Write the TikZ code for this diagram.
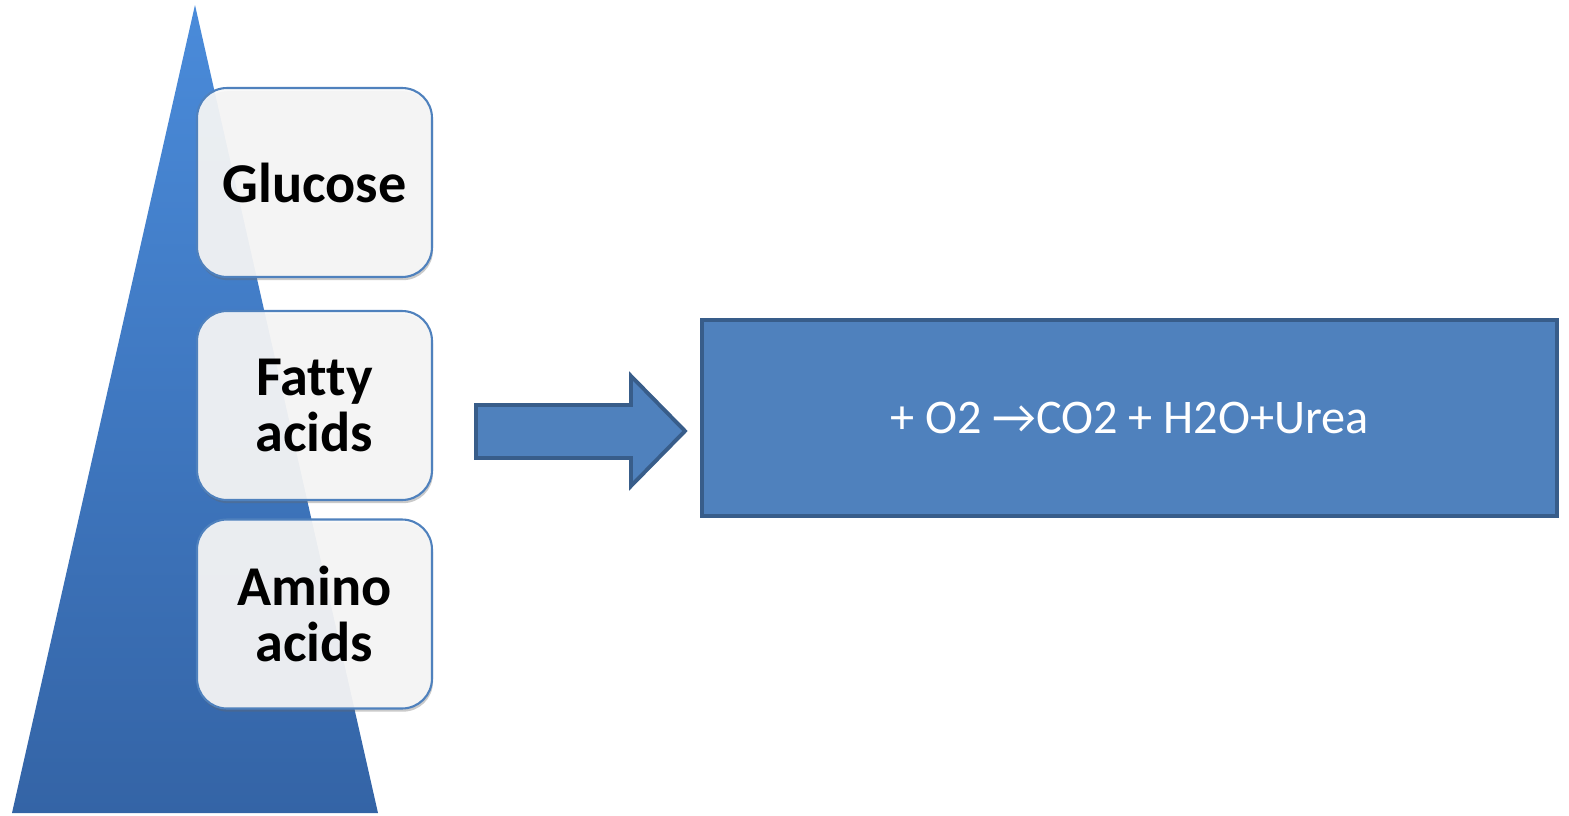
\documentclass[tikz,border=0pt]{standalone}
\usepackage{fontspec}
\setmainfont{Carlito}[Ligatures=CommonOff]
\usetikzlibrary{shadows}
\definecolor{triTop}{HTML}{4A8BDA}
\definecolor{triBot}{HTML}{3464A6}
\definecolor{boxFill}{HTML}{F8F8F8}
\definecolor{boxLine}{HTML}{4F81BD}
\definecolor{accFill}{HTML}{4F81BD}
\definecolor{accLine}{HTML}{385D8A}
\tikzset{
  itembox/.style={draw=boxLine, line width=1.2pt, fill=boxFill, fill opacity=0.92, text opacity=1,
    rounded corners=17pt, minimum width=235*0.2mm, minimum height=189*0.2mm,
    align=center, font=\fontsize{32}{32}\selectfont\bfseries,
    drop shadow={shadow xshift=0.6pt, shadow yshift=-1.8pt, opacity=0.35, fill=black!60}},
  block/.style={draw=accLine, line width=2.2pt, fill=accFill},
  resbox/.style={block, minimum width=855*0.2mm, minimum height=196*0.2mm,
    text=white, font=\fontsize{27.5}{32}\selectfont},
}
\begin{document}
\begin{tikzpicture}[x=0.02cm,y=-0.02cm]
\useasboundingbox (0,0) rectangle (1569,815);
% pyramid
\shade[top color=triTop, bottom color=triBot] (195,5) -- (378,813) -- (12,813) -- cycle;
% item boxes
\node[itembox] (glu) at (314.5,182.5) {Glucose};
\node[itembox] (fat) at (314.5,405.5) {Fatty\\acids};
\node[itembox] (ami) at (314.5,614) {Amino\\acids};
% result box
\node[resbox] (res) at (1129.5,418) {+ O2 →CO2 + H2O+Urea};
% block arrow
\coordinate (tip) at (685,431);
\draw[block, line join=miter] (476,405) -- (631,405) -- (631,376) -- (tip) -- (631,486) -- (631,458) -- (476,458) -- cycle;
\end{tikzpicture}
\end{document}
